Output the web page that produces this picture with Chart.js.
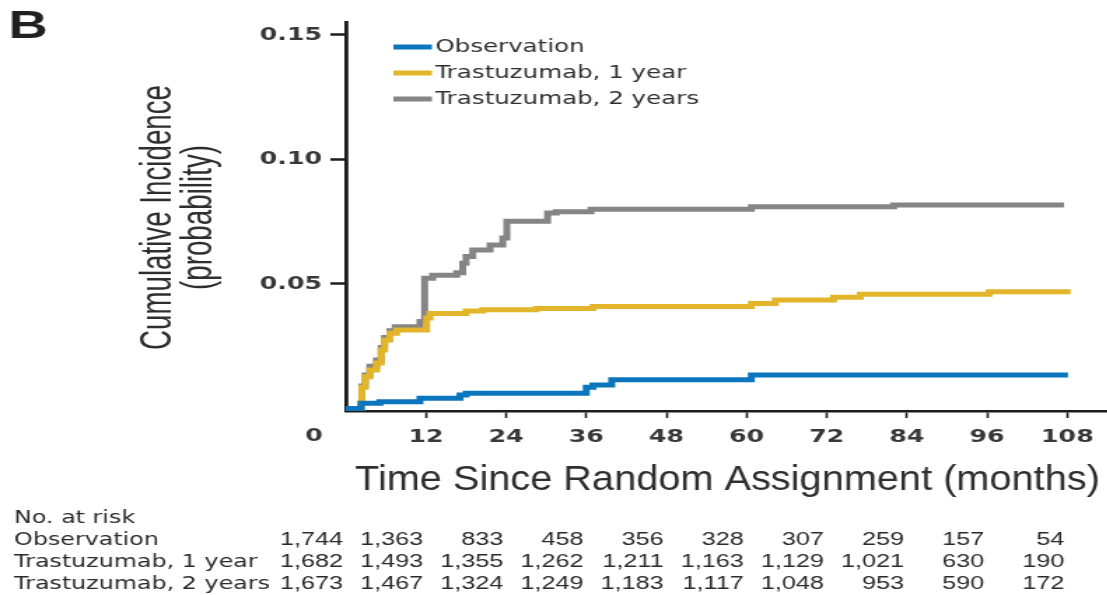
<!DOCTYPE html>
<html>
<head>
<meta charset="utf-8">
<title>Cumulative Incidence by Arm</title>
<script src="https://cdn.jsdelivr.net/npm/chart.js@4.4.0/dist/chart.umd.min.js"></script>
<style>
  html, body { margin: 0; padding: 0; background: #fff; overflow: hidden; }
  #wrap { width: 1107px; height: 595px; overflow: hidden; }
  /* the figure is laid out on a narrower canvas and widened to the page */
  #fig { display: block; transform: scaleX(1.4); transform-origin: 0 0; }
</style>
</head>
<body>
<div id="wrap"><canvas id="fig" width="791" height="595"></canvas></div>
<script>
// ---- study arms ----
const seriesNames = ['Observation', 'Trastuzumab, 1 year', 'Trastuzumab, 2 years'];
const seriesColors = ['#0b76bd', '#e2b52a', '#858585'];

// ---- cumulative incidence step points (months, probability) ----
const obsMonths = [0, 2.3, 5.1, 11.1, 17.1, 18.0, 36.0, 37.0, 39.8, 60.7, 108.1];
const obsValues = [0, 0.0021, 0.0027, 0.0041, 0.0054, 0.0061, 0.0085, 0.0094, 0.0115, 0.0135, 0.0135];

const oneYearMonths = [0, 2.3, 2.4, 2.9, 3.6, 4.6, 5.3, 5.8, 6.6, 7.6, 12.1, 12.6, 18.0, 20.5, 28.5, 37.0, 60.7, 64.3, 73.0, 77.0, 96.3, 108.5];
const oneYearValues = [0, 0.0021, 0.0085, 0.0128, 0.0155, 0.0183, 0.0235, 0.0275, 0.0302, 0.0315, 0.0363, 0.0382, 0.0392, 0.0397, 0.0402, 0.0410, 0.0422, 0.0436, 0.0447, 0.0459, 0.0469, 0.0469];

const twoYearMonths = [0, 2.3, 2.4, 2.9, 3.6, 4.6, 5.3, 5.8, 6.6, 7.4, 11.1, 11.8, 13.0, 16.6, 17.5, 18.0, 19.0, 21.6, 23.5, 24.1, 30.2, 31.5, 36.7, 60.7, 82.0, 107.5];
const twoYearValues = [0, 0.0021, 0.009, 0.0135, 0.017, 0.0195, 0.0245, 0.0285, 0.0312, 0.0328, 0.0349, 0.0523, 0.0535, 0.0545, 0.0583, 0.0610, 0.0636, 0.0657, 0.0685, 0.0752, 0.0785, 0.0790, 0.0800, 0.0810, 0.0817, 0.0817];

// ---- axes ----
const xTickValues = [0, 12, 24, 36, 48, 60, 72, 84, 96, 108];
const yTickValues = [0.05, 0.10, 0.15];
const xTitle = 'Time Since Random Assignment (months)';
const yTitleLines = ['Cumulative Incidence', '(probability)'];
const panelLetter = 'B';

// ---- number at risk ----
const riskHeader = 'No. at risk';
const riskMonths = [0, 12, 24, 36, 48, 60, 72, 84, 96, 108];
const riskObs = [1744, 1363, 833, 458, 356, 328, 307, 259, 157, 54];
const riskOneYear = [1682, 1493, 1355, 1262, 1211, 1163, 1129, 1021, 630, 190];
const riskTwoYears = [1673, 1467, 1324, 1249, 1183, 1117, 1048, 953, 590, 172];

const toPoints = (xs, ys) => xs.map((x, i) => ({ x: x, y: ys[i] }));

const TICK_FONT = { family: "'DejaVu Sans', sans-serif", size: 18, weight: 'bold' };
const TICK_COLOR = '#383838';
const AXIS_COLOR = '#1c1c1c';
const X_TICK_LEN = 7, X_TICK_PAD = 9;

function fitText(ctx, text, x, y, width) {
  const w = ctx.measureText(text).width;
  ctx.save();
  ctx.translate(x, y);
  ctx.scale(width / w, 1);
  ctx.fillText(text, 0, 0);
  ctx.restore();
}

const figureText = {
  id: 'figureText',
  afterDraw(chart) {
    const ctx = chart.ctx;
    const xs = chart.scales.x;
    ctx.save();

    // panel letter
    ctx.fillStyle = '#202020';
    ctx.textAlign = 'left';
    ctx.textBaseline = 'alphabetic';
    ctx.font = "bold 39px 'Liberation Sans', Arial, sans-serif";
    ctx.fillText(panelLetter, 6, 38);

    // shared origin label
    ctx.fillStyle = TICK_COLOR;
    ctx.font = `bold ${TICK_FONT.size}px 'DejaVu Sans', sans-serif`;
    ctx.textAlign = 'center';
    ctx.textBaseline = 'top';
    ctx.fillText(String(xTickValues[0]), xs.getPixelForValue(0) - 22.7, xs.top + X_TICK_LEN + X_TICK_PAD);

    // axis titles (condensed)
    ctx.fillStyle = '#2e2e2e';
    ctx.font = "35px 'Liberation Sans', Arial, sans-serif";
    ctx.textAlign = 'center';
    ctx.textBaseline = 'alphabetic';
    fitText(ctx, xTitle, 519.6, 490, 532);

    ctx.font = "32px 'Liberation Sans', Arial, sans-serif";
    const yBase = [122, 151], yLen = [265, 145];
    yTitleLines.forEach((line, i) => {
      ctx.save();
      ctx.translate(yBase[i], 217.5);
      ctx.rotate(-Math.PI / 2);
      fitText(ctx, line, 0, 0, yLen[i]);
      ctx.restore();
    });

    // legend
    const rows = [47, 73, 99];
    ctx.font = "17.5px 'DejaVu Sans', sans-serif";
    ctx.textAlign = 'left';
    ctx.textBaseline = 'middle';
    chart.data.datasets.forEach((ds, i) => {
      ctx.strokeStyle = ds.borderColor;
      ctx.lineWidth = 5;
      ctx.lineCap = 'butt';
      ctx.beginPath();
      ctx.moveTo(281, rows[i]);
      ctx.lineTo(308.5, rows[i]);
      ctx.stroke();
      ctx.fillStyle = '#2f2f2f';
      ctx.fillText(ds.label, 311, rows[i]);
    });

    // number-at-risk table
    ctx.fillStyle = '#2a2a2a';
    ctx.textBaseline = 'alphabetic';
    ctx.textAlign = 'left';
    ctx.font = "17px 'DejaVu Sans', sans-serif";
    ctx.fillText(riskHeader, 10, 523);
    const tableRows = [riskObs, riskOneYear, riskTwoYears];
    const rowY = [545, 567, 589];
    tableRows.forEach((vals, r) => {
      ctx.font = "17px 'DejaVu Sans', sans-serif";
      ctx.textAlign = 'left';
      ctx.fillText(seriesNames[r], 10, rowY[r]);
      ctx.font = "18px 'Liberation Sans', Arial, sans-serif";
      ctx.textAlign = 'right';
      vals.forEach((v, c) => {
        ctx.fillText(v.toLocaleString('en-US'), xs.getPixelForValue(riskMonths[c]) - 2, rowY[r]);
      });
    });

    ctx.restore();
  }
};

const lineStyle = (i) => ({
  label: seriesNames[i],
  borderColor: seriesColors[i],
  backgroundColor: seriesColors[i],
  borderWidth: 5,
  stepped: true,
  pointRadius: 0,
  fill: false,
  borderCapStyle: 'butt',
  borderJoinStyle: 'miter',
  clip: 8
});

new Chart(document.getElementById('fig'), {
  type: 'line',
  data: {
    datasets: [
      Object.assign(lineStyle(0), { data: toPoints(obsMonths, obsValues) }),
      Object.assign(lineStyle(1), { data: toPoints(oneYearMonths, oneYearValues) }),
      Object.assign(lineStyle(2), { data: toPoints(twoYearMonths, twoYearValues) })
    ]
  },
  options: {
    responsive: false,
    animation: false,
    events: [],
    layout: { padding: { left: 0, right: 0, top: 22, bottom: 0 } },
    plugins: { legend: { display: false }, tooltip: { enabled: false } },
    scales: {
      x: {
        type: 'linear',
        min: 0,
        max: 114,
        afterBuildTicks: (s) => { s.ticks = xTickValues.filter(v => v !== 0).map(v => ({ value: v })); },
        afterFit: (s) => { s.height = 595 - 411; },
        grid: { drawOnChartArea: false, drawTicks: true, tickLength: X_TICK_LEN, tickWidth: 1.6, tickColor: AXIS_COLOR },
        border: { display: true, color: AXIS_COLOR, width: 2.5 },
        ticks: { font: TICK_FONT, color: TICK_COLOR, padding: X_TICK_PAD, maxRotation: 0, autoSkip: false }
      },
      y: {
        type: 'linear',
        min: -0.001,
        max: 0.1552,
        afterBuildTicks: (s) => { s.ticks = yTickValues.map(v => ({ value: v })); },
        afterFit: (s) => { s.width = 247; },
        grid: { drawOnChartArea: false, drawTicks: true, tickLength: 11, tickWidth: 2.5, tickColor: AXIS_COLOR },
        border: { display: true, color: AXIS_COLOR, width: 2.8 },
        ticks: { font: TICK_FONT, color: TICK_COLOR, padding: 6, callback: (v) => Number(v).toFixed(2) }
      }
    }
  },
  plugins: [figureText]
});
</script>
</body>
</html>
